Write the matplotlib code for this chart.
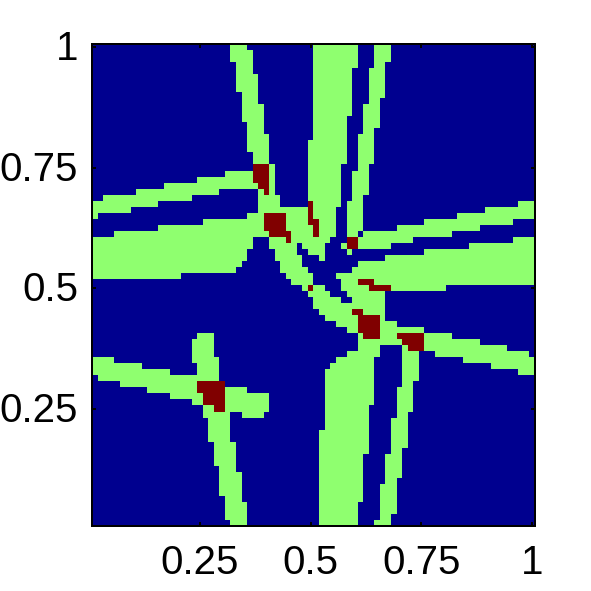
import numpy as np
import matplotlib
matplotlib.use("Agg")
import matplotlib.pyplot as plt
from matplotlib.colors import ListedColormap
from matplotlib.transforms import ScaledTranslation

plt.rcParams['font.family'] = ['Liberation Sans', 'DejaVu Sans']

N = 80
x_ticks = [0.25, 0.5, 0.75, 1]
y_ticks = [0.25, 0.5, 0.75, 1]
tick_labels = ['0.25', '0.5', '0.75', '1']
level_colors = ['#00008F', '#8FFF6F', '#800000']

# Class 1 cells per image row (top to bottom): half-open column runs
green_runs = [
    [(25,28),(40,48),(51,54)],
    [(25,29),(40,48),(51,54)],
    [(25,29),(40,48),(51,54)],
    [(26,29),(40,48),(51,53)],
    [(26,29),(40,47),(50,53)],
    [(26,30),(40,47),(50,53)],
    [(26,30),(40,47),(50,53)],
    [(26,30),(40,47),(50,53)],
    [(27,30),(40,47),(50,53)],
    [(27,30),(40,47),(50,52)],
    [(27,31),(40,47),(49,52)],
    [(27,31),(40,47),(49,52)],
    [(27,31),(40,46),(49,52)],
    [(28,31),(40,46),(49,52)],
    [(28,31),(40,46),(49,51)],
    [(28,32),(40,46),(48,51)],
    [(28,32),(39,46),(48,51)],
    [(28,32),(39,46),(48,51)],
    [(29,32),(39,46),(48,51)],
    [(29,32),(39,46),(48,51)],
    [(32,33),(39,45),(48,50)],
    [(24,29),(32,33),(39,45),(47,50)],
    [(19,29),(32,33),(39,45),(47,50)],
    [(13,30),(32,33),(39,45),(47,50)],
    [(8,23),(30,31),(32,33),(39,45),(47,50)],
    [(2,18),(30,34),(39,45),(47,49)],
    [(0,12),(30,34),(40,45),(46,49),(77,80)],
    [(0,7),(30,39),(40,44),(46,49),(71,80)],
    [(0,1),(28,31),(35,39),(40,44),(46,49),(66,80)],
    [(20,31),(35,39),(41,44),(46,49),(60,76)],
    [(12,31),(35,40),(41,44),(46,49),(55,70)],
    [(4,32),(36,40),(41,44),(46,48),(49,65)],
    [(0,29),(32,35),(36,43),(48,58),(76,80)],
    [(0,29),(32,37),(38,42),(45,46),(48,54),(68,80)],
    [(0,28),(33,37),(39,42),(46,47),(60,80)],
    [(0,28),(33,38),(41,42),(53,80)],
    [(0,27),(34,38),(48,80)],
    [(0,26),(34,39),(47,80)],
    [(0,16),(35,40),(44,80)],
    [(36,40),(45,48),(51,80)],
    [(38,39),(40,42),(45,50),(54,64)],
    [(39,43),(46,53)],
    [(40,45),(47,53)],
    [(40,53)],
    [(41,47),(49,53)],
    [(42,48),(52,53)],
    [(44,48),(52,55)],
    [(46,48),(52,60)],
    [(19,22),(48,49),(52,55),(60,65)],
    [(18,22),(48,56),(60,70)],
    [(18,22),(48,52),(56,57),(60,75)],
    [(18,22),(46,52),(56,59),(62,79)],
    [(0,4),(18,23),(44,51),(56,59),(67,80)],
    [(0,9),(19,23),(43,51),(56,59),(72,80)],
    [(0,14),(19,23),(42,51),(56,59),(77,80)],
    [(1,23),(42,51),(56,59)],
    [(5,19),(42,51),(56,58)],
    [(10,19),(24,28),(42,51),(55,58)],
    [(14,20),(24,32),(42,51),(55,58)],
    [(18,20),(24,32),(42,51),(55,58)],
    [(20,22),(24,32),(42,50),(55,58)],
    [(20,25),(27,31),(42,50),(55,57)],
    [(21,25),(42,50),(54,57)],
    [(21,25),(42,50),(54,57)],
    [(21,25),(41,50),(54,57)],
    [(21,25),(41,50),(54,57)],
    [(22,26),(41,50),(54,57)],
    [(22,26),(41,50),(54,56)],
    [(22,26),(41,49),(53,56)],
    [(22,26),(41,49),(53,56)],
    [(23,26),(41,49),(53,56)],
    [(23,27),(41,49),(53,56)],
    [(23,27),(41,49),(53,55)],
    [(23,27),(41,49),(52,55)],
    [(23,27),(41,49),(52,55)],
    [(24,27),(41,49),(52,55)],
    [(24,28),(41,48),(52,55)],
    [(24,28),(41,48),(52,55)],
    [(24,28),(41,48),(52,54)],
    [(25,28),(41,48),(51,54)],
]

# Class 2 cells: row -> half-open column runs
red_runs = {
    20: [(29,32)], 21: [(29,32)], 22: [(29,32)], 23: [(30,32)], 24: [(31,32)],
    26: [(39,40)], 27: [(39,40)], 28: [(31,35),(39,40)], 29: [(31,35),(39,41)],
    30: [(31,35),(40,41)], 31: [(32,36),(40,41)], 32: [(35,36),(46,48)],
    33: [(46,48)], 39: [(48,51)], 40: [(39,40),(50,54)], 44: [(47,49)],
    45: [(48,52)], 46: [(48,52)], 47: [(48,52)], 48: [(49,52),(55,60)],
    49: [(56,60)], 50: [(57,60)], 56: [(19,24)], 57: [(19,24)], 58: [(20,24)],
    59: [(20,24)], 60: [(22,24)],
}

grid = np.zeros((N, N), dtype=int)
for r, runs in enumerate(green_runs):
    for a, b in runs:
        grid[r, a:b] = 1
for r, runs in red_runs.items():
    for a, b in runs:
        grid[r, a:b] = 2

W = H = 591
L, R, T, B = 92, 535, 44, 526
fig = plt.figure(figsize=(W / 100, H / 100), dpi=100, facecolor='white')
ax = fig.add_axes([L / W, 1 - B / H, (R - L) / W, (B - T) / H])

half = 1 / (2 * N)
low, high = 1 / N - half, 1 + half
ax.imshow(grid, cmap=ListedColormap(level_colors), vmin=0, vmax=2, aspect='auto',
          interpolation='nearest', origin='upper', extent=[low, high, low, high])
ax.set_xlim(low, high)
ax.set_ylim(low, high)

ax.set_xticks(x_ticks)
ax.set_xticklabels(tick_labels)
ax.set_yticks(y_ticks)
ax.set_yticklabels(tick_labels)
ax.tick_params(axis='both', direction='in', top=True, right=True, length=2.9,
               width=1.44, labelsize=29, color='black')
ax.tick_params(axis='x', pad=13.3)
ax.tick_params(axis='y', pad=10)
for s in ax.spines.values():
    s.set_linewidth(1.44)
    s.set_color('black')

up = ScaledTranslation(0, 2 / 100, fig.dpi_scale_trans)
for lab in ax.get_yticklabels():
    lab.set_transform(lab.get_transform() + up)

fig.savefig('out.png', dpi=100, facecolor='white')
